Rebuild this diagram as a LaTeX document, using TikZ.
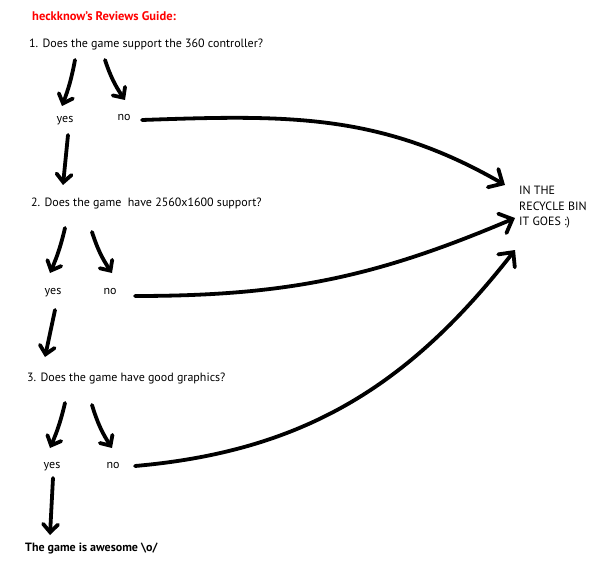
\documentclass[tikz,border=0pt]{standalone}
\usepackage{fontspec}
\setmainfont{PT Sans}
\usetikzlibrary{arrows.meta}
\tikzset{
	hand/.style={line width=3.8pt, line cap=round, line join=round,
		-{Straight Barb[length=8pt,width=15pt,line cap=round]}},
	bighand/.style={hand, -{Straight Barb[length=11pt,width=21pt,line cap=round]}},
	qtext/.style={anchor=west, inner sep=0pt, font=\fontsize{12}{14}\selectfont},
	ans/.style={inner sep=0pt, font=\fontsize{12}{14}\selectfont}
}
\begin{document}
\begin{tikzpicture}[x=1pt,y=1pt]
		%%%%% START %%%%%
		\useasboundingbox[fill=white] (0,0) rectangle (600,-575);
		
		\node[qtext, text=red, font=\fontsize{12.5}{14}\selectfont\bfseries] (title) at (32,-16) {heckknow’s Reviews Guide:};
		
		\node[qtext] (q1) at (29,-45) {1. Does the game support the 360 controller?};
		\node[ans] (yes1) at (65,-121) {yes};
		\node[ans] (no1) at (124,-118) {no};
		
		\node[qtext] (q2) at (31,-204) {2. Does the game\ \ have 2560x1600 support?};
		\node[ans] (yes2) at (53,-293) {yes};
		\node[ans] (no2) at (110,-291) {no};
		
		\node[qtext] (q3) at (27,-378) {3. Does the game have good graphics?};
		\node[ans] (yes3) at (52,-467) {yes};
		\node[ans] (no3) at (113,-465) {no};
		
		\node[qtext, font=\fontsize{12}{14}\selectfont\bfseries] (final) at (25,-548) {The game is awesome \textbackslash o/};
		
		\node[anchor=north west, inner sep=0pt, align=left, font=\fontsize{12}{15.5}\selectfont] (bin) at (519,-186) {IN THE\\RECYCLE BIN\\IT GOES :)};
		
		% question 1
		\draw[hand] ([shift={(46,-15)}]q1.west) to[bend left=5] ([shift={(-3,15)}]yes1.center);
		\draw[hand] ([shift={(76,-15)}]q1.west) to[bend right=8] ([shift={(1,18)}]no1.center);
		\draw[bighand] ([shift={(18,-2)}]no1.center) to[out=2, in=150] ([shift={(-14,1)}]bin.north west);
		\draw[hand] ([shift={(3,-14)}]yes1.center) -- ([shift={(32,19)}]q2.west);
		
		% question 2
		\draw[hand] ([shift={(34,-24)}]q2.west) to[bend left=5] ([shift={(-3,20)}]yes2.center);
		\draw[hand] ([shift={(61,-28)}]q2.west) to[bend right=8] ([shift={(2,18)}]no2.center);
		\draw[bighand] ([shift={(25,-5)}]no2.center) to[out=0, in=203] ([shift={(-4,-32)}]bin.north west);
		\draw[hand] ([shift={(2,-17)}]yes2.center) -- ([shift={(18,21)}]q3.west);
		
		% question 3
		\draw[hand] ([shift={(38,-25)}]q3.west) to[bend left=5] ([shift={(-2,19)}]yes3.center);
		\draw[hand] ([shift={(65,-27)}]q3.west) to[bend right=8] ([shift={(-1,17)}]no3.center);
		\draw[bighand] ([shift={(22,-1)}]no3.center) to[out=5, in=232] ([shift={(-4,-64)}]bin.north west);
		\draw[hand] ([shift={(1,-11)}]yes3.center) -- ([shift={(25,13)}]final.west);
		
		%%%%% END %%%%%
	\end{tikzpicture}
\end{document}
